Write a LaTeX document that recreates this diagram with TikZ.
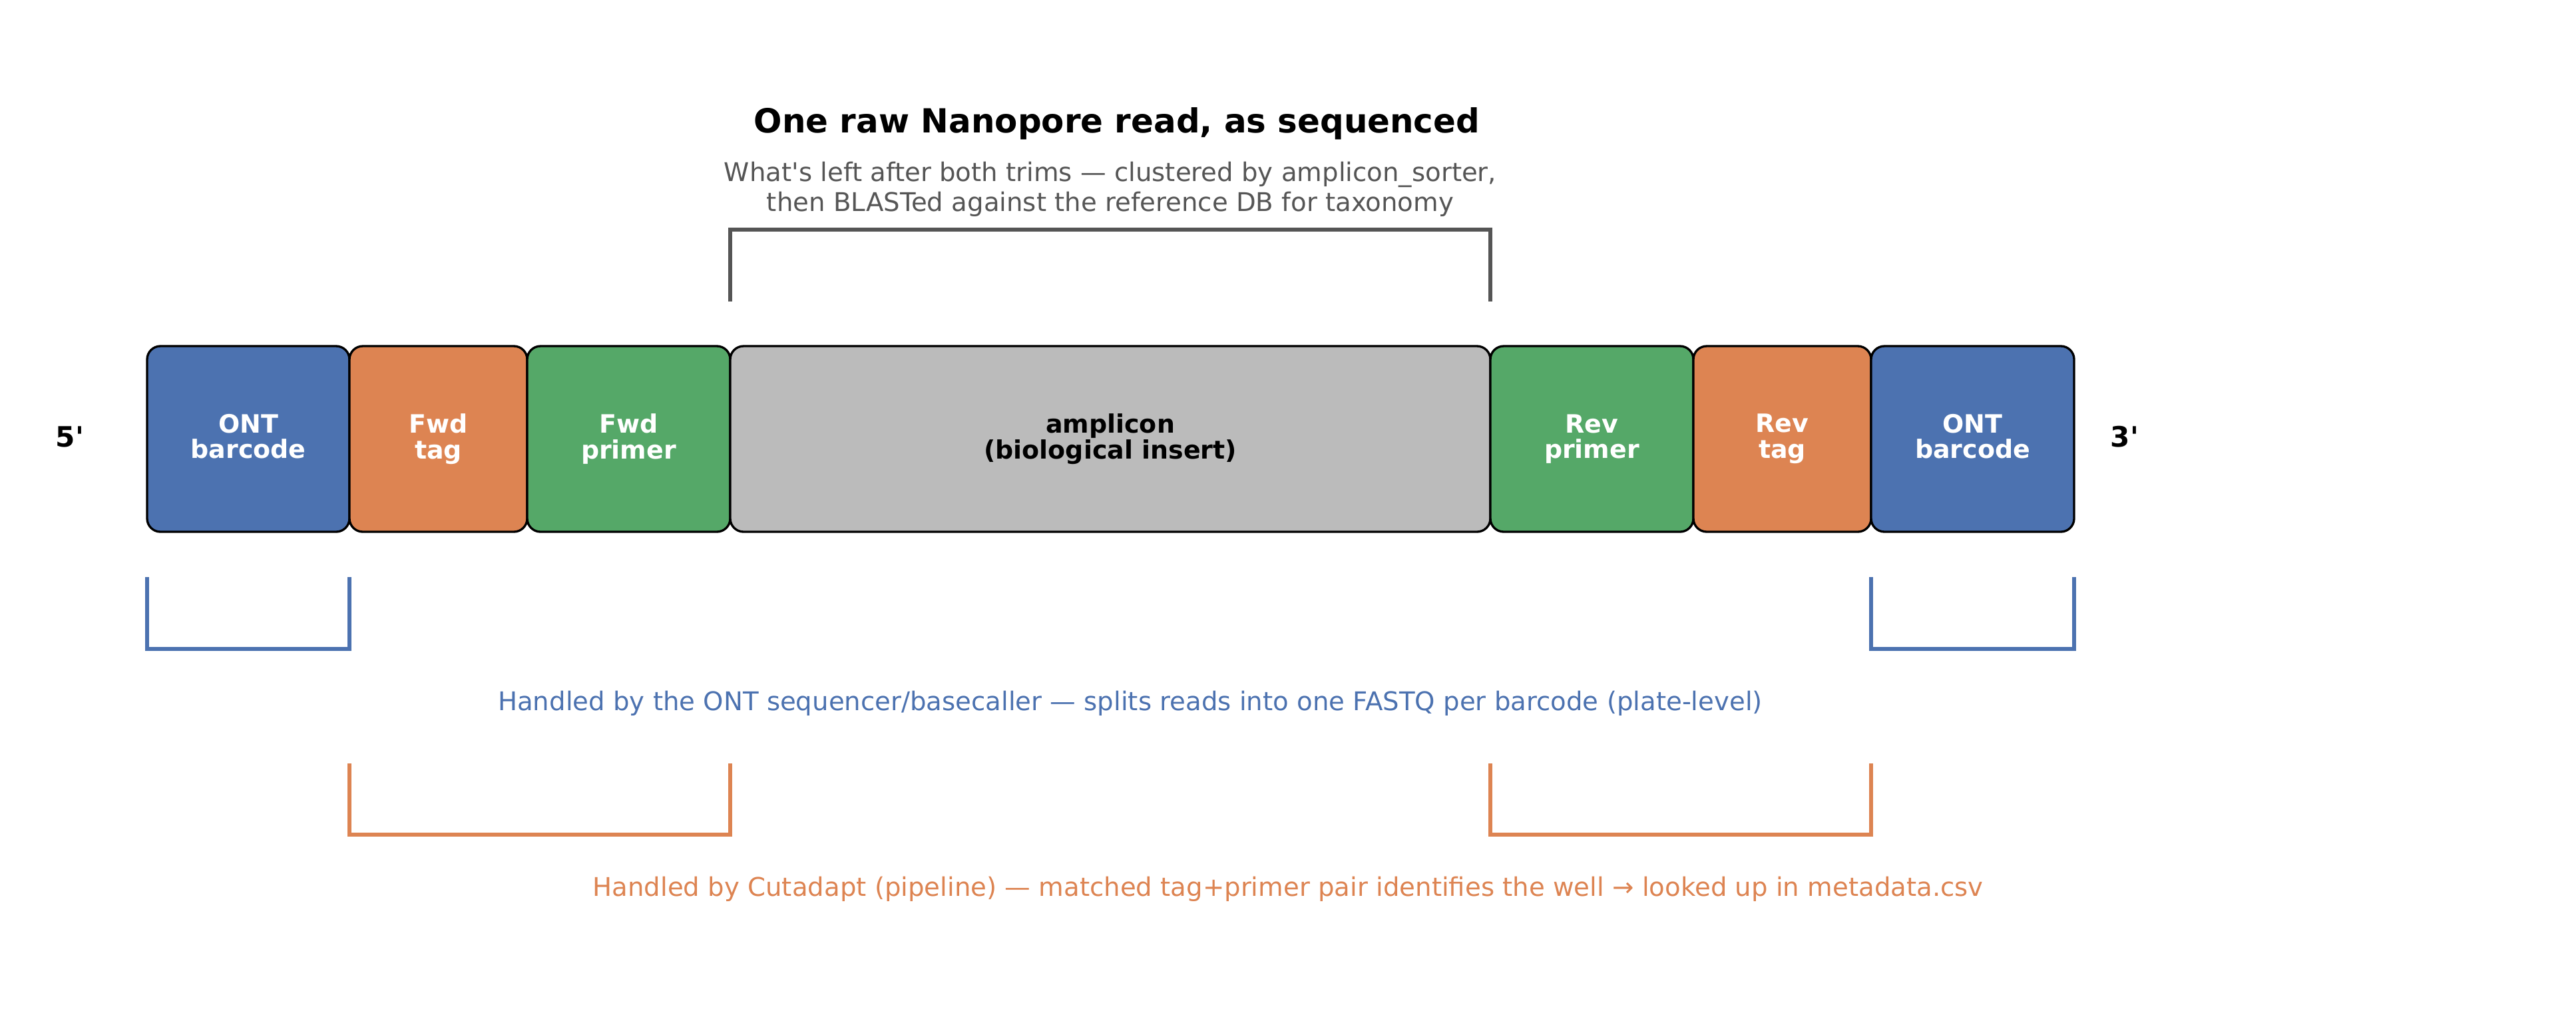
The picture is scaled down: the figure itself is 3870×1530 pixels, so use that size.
\documentclass[tikz,border=0pt]{standalone}
\usepackage{fontspec}
\setmainfont{DejaVu Sans}
\usepackage{xcolor}
\usepackage{tikz}
\usetikzlibrary{calc}

\definecolor{ontblue}{HTML}{4C72B0}
\definecolor{tagorange}{HTML}{DD8452}
\definecolor{primergreen}{HTML}{55A868}
\definecolor{insertgray}{HTML}{BBBBBB}
\definecolor{bracketgray}{HTML}{555555}

\begin{document}
\begin{tikzpicture}[x=0.1mm,y=-0.1mm,
    seg/.style={draw=black,line width=0.95pt,rounded corners=2mm,minimum height=2.79cm,
        inner sep=0pt,outer sep=0pt,align=center,text=white,
        font=\fontsize{10.8}{11}\selectfont\bfseries},
    brk/.style={line width=1.9pt}]

\useasboundingbox (0,0) rectangle (3870,1530);

% Title and subtitle
\node[anchor=base,font=\fontsize{14.2}{17}\selectfont\bfseries] (title) at (1678,199.5)
    {One raw Nanopore read, as sequenced};
\node[align=center,text=bracketgray,font=\fontsize{11}{12.8}\selectfont] (sub) at (1668,284)
    {What\textquotesingle s left after both trims — clustered by amplicon\_sorter,\\then BLASTed against the reference DB for taxonomy};

% Read segments, 5' to 3'
\node[seg,fill=ontblue,minimum width=3.04cm] (bc5) at (373,659.5) {ONT\\barcode\vphantom{g}};
\node[seg,fill=tagorange,minimum width=2.67cm] (ftag) at (658.5,659.5) {Fwd\\tag};
\node[seg,fill=primergreen,minimum width=3.05cm] (fpri) at (944.5,659.5) {Fwd\\primer};
\node[seg,fill=insertgray,text=black,minimum width=11.42cm] (amp) at (1668,659.5) {amplicon\\(biological insert)};
\node[seg,fill=primergreen,minimum width=3.05cm] (rpri) at (2391.5,659.5) {Rev\\primer};
\node[seg,fill=tagorange,minimum width=2.67cm] (rtag) at (2677.5,659.5) {Rev\\tag};
\node[seg,fill=ontblue,minimum width=3.05cm] (bc3) at (2963.5,659.5) {ONT\\barcode\vphantom{g}};

% Strand ends
\node[font=\fontsize{12}{14}\selectfont\bfseries] (five) at (105,656) {5\textquotesingle};
\node[font=\fontsize{12}{14}\selectfont\bfseries] (three) at (3192,656) {3\textquotesingle};

% Bracket over the insert
\draw[brk,bracketgray] (amp.north west |- 0,453) -- (amp.north west |- 0,345)
    -- (amp.north east |- 0,345) -- (amp.north east |- 0,453);

% Brackets under the barcodes
\foreach \l/\r in {bc5/bc5,bc3/bc3}
    \draw[brk,ontblue] (\l.south west |- 0,867) -- (\l.south west |- 0,975)
        -- (\r.south east |- 0,975) -- (\r.south east |- 0,867);
\node[anchor=base,text=ontblue,font=\fontsize{11}{13}\selectfont] (ontnote) at (1698,1067.6)
    {Handled by the ONT sequencer/basecaller — splits reads into one FASTQ per barcode (plate-level)};

% Brackets under tag+primer pairs
\foreach \l/\r in {ftag/fpri,rpri/rtag}
    \draw[brk,tagorange] (\l.south west |- 0,1147) -- (\l.south west |- 0,1254)
        -- (\r.south east |- 0,1254) -- (\r.south east |- 0,1147);
\node[anchor=base,text=tagorange,font=\fontsize{11}{13}\selectfont] (cutnote) at (1935,1346.7)
    {Handled by Cutadapt (pipeline) — matched tag+primer pair identifies the well → looked up in metadata.csv};

\end{tikzpicture}
\end{document}
